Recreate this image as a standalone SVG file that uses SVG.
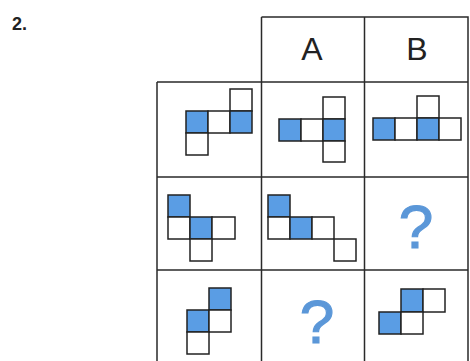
<svg xmlns="http://www.w3.org/2000/svg" width="470" height="361" viewBox="0 0 470 361">
<style>
.g{fill:none;stroke:#2a2a2a;stroke-width:1.5}
.w{fill:#fff;stroke:#222;stroke-width:1.5}
.b{fill:#5a9de4;stroke:#222;stroke-width:1.5}
.q{font-family:"Liberation Sans",Arial,sans-serif;font-size:62px;fill:#5b97d8;stroke:#5b97d8;stroke-width:1.2;text-anchor:middle}
.h{font-family:"Liberation Sans",Arial,sans-serif;font-size:32px;fill:#222;text-anchor:middle}
</style>
<rect width="470" height="361" fill="#fff"/>
<text x="12" y="30" font-family="Liberation Sans,Arial,sans-serif" font-size="18" font-weight="bold" fill="#222">2.</text>
<g id="grid">
<path class="g" d="M261.5 17 H468 V361 M261.5 17 V361 M364.5 17 V361 M157 82 H468 M157 82 V361 M157 177 H468 M157 270 H468"/>
</g>
<g id="headA"><text class="h" x="312" y="60">A</text></g>
<g id="headB"><text class="h" x="417" y="60">B</text></g>
<g id="r1c0">
<rect class="w" x="230" y="89" width="22" height="22"/>
<rect class="b" x="186" y="111" width="22" height="22"/>
<rect class="w" x="208" y="111" width="22" height="22"/>
<rect class="b" x="230" y="111" width="22" height="22"/>
<rect class="w" x="186" y="133" width="22" height="22"/>
</g>
<g id="r1c1">
<rect class="w" x="323" y="97" width="22" height="22"/>
<rect class="b" x="279" y="119" width="22" height="22"/>
<rect class="w" x="301" y="119" width="22" height="22"/>
<rect class="b" x="323" y="119" width="22" height="22"/>
<rect class="w" x="323" y="141" width="22" height="21"/>
</g>
<g id="r1c2">
<rect class="w" x="417" y="96" width="22" height="22"/>
<rect class="b" x="373" y="118" width="22" height="22"/>
<rect class="w" x="395" y="118" width="22" height="22"/>
<rect class="b" x="417" y="118" width="22" height="22"/>
<rect class="w" x="439" y="118" width="22" height="22"/>
</g>
<g id="r2c0">
<rect class="b" x="168" y="195" width="22" height="22"/>
<rect class="w" x="168" y="217" width="22" height="22"/>
<rect class="b" x="190" y="217" width="22" height="22"/>
<rect class="w" x="212" y="217" width="23" height="22"/>
<rect class="w" x="190" y="239" width="22" height="22"/>
</g>
<g id="r2c1">
<rect class="b" x="268" y="195" width="22" height="22"/>
<rect class="w" x="268" y="217" width="22" height="22"/>
<rect class="b" x="290" y="217" width="22" height="22"/>
<rect class="w" x="312" y="217" width="22" height="22"/>
<rect class="w" x="334" y="239" width="22" height="22"/>
</g>
<g id="r2c2"><text class="q" x="416" y="248">?</text></g>
<g id="r3c0">
<rect class="b" x="209" y="288" width="22" height="22"/>
<rect class="b" x="187" y="310" width="22" height="22"/>
<rect class="w" x="209" y="310" width="22" height="22"/>
<rect class="w" x="187" y="332" width="22" height="22"/>
</g>
<g id="r3c1"><text class="q" x="317" y="343">?</text></g>
<g id="r3c2">
<rect class="b" x="401" y="289" width="22" height="23"/>
<rect class="w" x="423" y="289" width="22" height="23"/>
<rect class="b" x="379" y="312" width="22" height="22"/>
<rect class="w" x="401" y="312" width="22" height="22"/>
</g>
</svg>
